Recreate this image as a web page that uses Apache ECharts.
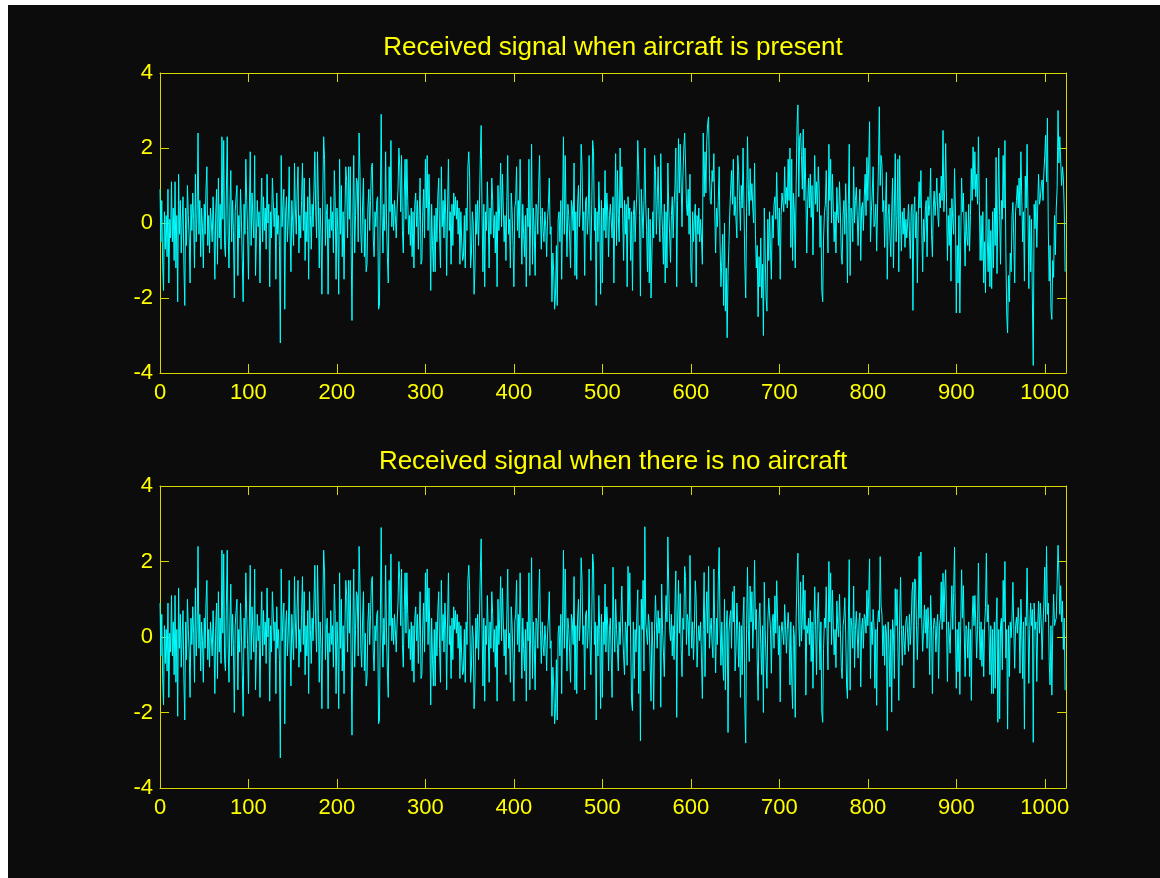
<!DOCTYPE html>
<html>
<head>
<meta charset="utf-8">
<title>Received signal</title>
<script src="https://cdn.jsdelivr.net/npm/echarts@6/dist/echarts.min.js"></script>
<style>
  html, body { margin: 0; padding: 0; background: #ffffff; }
  #chart { position: absolute; left: 8px; top: 5px; width: 1152px; height: 873px; background: #0c0c0c; }
</style>
</head>
<body>
<div id="chart"></div>
<script>
// Samples 0..509 are the same noise record in both received signals.
const sharedStart = [
  0.9, -0.5, 0.6, -1.1, -1.8, 0.3, -0.7, 0.2, -0.9, 0.9,
  -1.6, 0.1, -0.4, 1.1, -0.5, 0.4, -1.0, 1.1, -1.2, 0.2,
  -2.1, 1.3, -0.3, 0.6, -0.8, 0.0, 0.7, -1.1, -2.2, 0.4,
  -0.6, 1.0, 0.2, -0.4, -1.6, 0.5, -0.2, 0.8, 0.1, -1.2,
  1.3, -0.5, 0.3, 2.4, -0.3, 0.6, -0.9, 0.4, -0.1, -1.2,
  0.5, -0.3, 0.9, 1.5, -0.6, 0.2, -0.8, 0.4, 0.0, -0.5,
  0.7, -0.2, -1.5, 0.3, 0.9, -1.1, 1.2, -0.4, 0.5, -0.7,
  2.3, 0.1, 2.2, -0.6, -0.9, 0.8, 2.3, -0.3, -1.2, 0.4,
  1.4, -0.5, 0.6, -0.2, -2.0, 0.3, 0.7, 1.0, -1.4, 0.2,
  -0.4, 0.9, 0.1, -1.0, -2.1, 0.5, -0.3, 1.7, 0.6, -0.2,
  -1.5, 0.4, 1.9, -0.6, 0.8, 0.1, -0.4, 1.8, -1.4, -0.3,
  0.6, -0.1, 0.3, -1.6, 0.2, 1.2, -0.5, 0.7, -0.2, 0.4,
  -0.7, 1.3, 0.0, 0.5, -1.7, 0.3, -0.4, 1.2, 0.6, -0.1,
  0.4, -1.5, 0.8, -0.3, 0.2, -0.6, -3.2, 1.8, -0.1, 0.5,
  0.9, -2.3, 0.3, 0.7, -0.5, 0.1, 1.5, -0.2, -1.3, 0.6,
  0.0, -0.6, 1.6, 0.4, -0.3, 0.8, 1.5, -0.8, 0.2, -0.4,
  0.6, 1.6, -0.2, 1.2, -1.0, 0.3, -0.5, 0.7, -1.5, 1.2,
  0.2, -0.7, 0.5, -0.1, 0.9, 1.9, 0.3, -0.4, 1.9, 0.6,
  -1.2, 0.4, -0.3, -1.9, 0.8, 2.3, 1.7, -0.6, 0.2, 0.5,
  -1.9, 0.1, -0.4, 0.7, -0.2, 0.3, -0.8, 1.4, 0.6, -1.5,
  0.4, -0.2, -1.9, 1.7, -0.3, 1.0, -0.9, 0.3, -1.5, 0.2,
  1.5, 1.1, -0.4, 1.5, 0.1, 1.5, -0.6, -2.6, 0.3, 1.8,
  -0.8, 0.2, 1.2, 1.1, -0.5, 2.4, 1.4, -0.3, -0.8, 0.5,
  1.2, -0.9, 0.1, -1.3, -1.1, 0.4, 0.9, -0.2, 0.6, 1.5,
  1.6, -0.4, -0.9, 0.3, -0.1, 0.6, 0.7, -2.3, -2.2, 0.4,
  2.9, 0.2, -0.8, 0.5, -0.2, 1.9, 0.1, -0.9, -1.6, 1.5,
  0.3, 2.2, -0.1, 0.5, -0.2, 0.6, 0.2, -0.4, 0.4, 0.9,
  2.0, 1.5, 0.3, 1.8, -0.2, -0.8, 0.7, 1.7, 0.1, 1.7,
  0.6, -0.3, 0.2, -0.6, 0.4, -0.9, 0.3, -1.2, 0.5, 0.8,
  -0.1, 0.6, -0.7, 0.2, 1.2, -1.1, -1.0, 0.3, 0.9, -0.4,
  1.7, 0.4, 1.8, -0.2, 1.3, 0.1, -1.8, 0.5, -0.6, -1.3,
  0.2, -1.3, 0.4, -0.5, 0.7, 1.2, -0.3, -1.2, 1.5, -0.1,
  0.6, -0.4, 0.9, 0.2, -1.4, 0.4, 1.7, -0.2, 0.3, -1.1,
  0.5, -0.6, 0.8, 0.2, 0.7, 0.1, 0.6, -0.3, 0.4, -1.1,
  0.3, -0.5, -1.0, -0.9, 0.2, -1.2, 0.4, -0.2, 1.5, 1.9,
  1.2, -1.2, -0.8, 0.3, 0.0, -1.9, -1.2, 0.5, -0.3, 0.6,
  -0.6, 0.4, 1.7, 2.6, 0.2, -1.3, 0.5, -1.7, 0.3, -0.2,
  1.1, 0.1, -1.2, 0.4, -0.3, 1.2, 0.6, -0.4, 0.2, -0.8,
  0.3, -1.7, 1.0, -0.2, 0.5, 1.6, -0.1, 1.3, 0.4, -0.5,
  0.2, -1.0, 0.6, 1.8, -0.3, 0.1, -1.2, 0.8, 0.3, -0.6,
  -1.7, 0.4, 0.6, 1.5, -0.2, 0.6, -0.4, 1.7, 0.3, -1.1,
  0.5, -0.3, -0.9, 0.2, -1.7, 0.4, -0.1, 1.7, -1.4, 0.3,
  2.1, -1.1, 0.4, -0.2, -1.4, 0.5, 0.4, -0.3, 1.0, 1.8,
  0.2, -0.7, 0.4, -0.2, -0.5, 0.3, -0.1, -0.9, 0.1, 0.5,
  1.2, -0.3, -0.1, -2.1, -0.8, -1.3, -2.3, -1.9, -0.6, -2.2,
  0.1, 0.3, -0.5, 0.6, -1.5, 0.4, 2.3, -0.3, 1.8, 0.2,
  -0.9, 0.5, 0.2, -0.4, -1.2, 0.6, 0.4, -0.2, 1.6, -1.4,
  0.3, -1.5, 0.5, 1.0, -0.1, 0.4, 2.1, 1.5, -0.2, 0.3,
  -1.4, 0.6, 0.7, -0.3, 0.2, 1.8, -0.1, -1.0, 0.5, 2.2,
  1.9, -0.2, 0.4, -2.2, 0.3, -0.5, 1.1, 0.2, -1.9, 0.6,
  -1.6, 0.4, -0.2, 1.4, -0.4, 0.8, 0.3, -0.9, 0.2, 0.5
];

// Samples 510..1023 with the aircraft echo present.
const presentTail = [
  0.5, -0.4, 0.7, -1.6, 0.3, 1.85, -0.6, 1.4, 0.2, -0.5,
  2.0, 0.4, 1.5, 0.1, -1.0, 0.6, -0.3, 0.5, -1.7, 0.7,
  0.1, 0.4, -1.0, 0.3, -1.8, 0.2, 0.6, -0.5, 0.3, 0.8,
  2.2, 1.4, 0.2, -1.95, 0.9, 0.3, -0.4, 0.6, 2.0, 0.5,
  -0.2, -1.3, 0.4, -1.6, 0.1, -2.0, -0.8, 0.3, -0.4, 1.8,
  1.4, -0.3, 0.6, 1.5, 0.2, -0.5, 1.85, 0.4, -0.2, -1.1,
  0.5, -1.6, 0.3, -1.2, 1.6, 0.4, -0.3, -1.05, 0.2, 0.7,
  -0.4, 0.5, 0.9, 2.0, -1.7, 0.6, 2.25, 0.8, 2.1, 1.1,
  -0.1, 1.2, 2.0, 2.4, 1.6, 0.5, 0.2, 0.9, -0.3, 1.3,
  -1.2, -1.6, 0.3, -0.5, 0.1, 0.5, -1.7, 0.2, -0.3, 0.4,
  -0.5, 0.1, -0.4, -1.1, 2.4, 0.7, 1.9, 0.8, 2.2, 2.65,
  2.83, 1.3, 0.6, 0.5, 1.4, 1.1, 1.85, 0.3, -0.8, 0.4,
  -0.1, 0.6, 1.5, -0.5, -1.7, -1.0, -0.3, -2.2, 0.0, -2.35,
  -1.2, -3.06, -1.4, -0.6, 0.3, 0.9, 1.4, 0.5, 1.7, 0.2,
  0.7, 0.1, -0.4, 1.8, 1.4, 0.6, -0.2, 1.0, 0.4, 2.0,
  0.5, -1.1, -2.0, 0.3, 2.3, 0.9, 0.2, 1.45, 0.6, 1.05,
  0.4, 0.0, 1.6, -0.3, -1.2, -0.6, -2.5, -0.9, -1.7, -0.4,
  -2.0, -1.1, -3.0, 0.4, -0.8, -2.0, -2.35, 0.1, -1.0, 0.3,
  -0.7, -1.5, 0.2, -0.4, 0.5, 0.7, 0.1, 1.35, 0.3, -0.6,
  0.4, -1.5, 0.2, 0.8, 0.8, 0.3, 1.5, 0.5, 0.95, 0.4,
  1.7, 0.6, 2.0, -0.65, 1.7, -1.0, 0.8, 0.3, -1.2, 1.0,
  2.6, 3.15, 0.7, 2.3, 2.4, 1.8, 0.9, 2.5, 0.6, 2.0,
  0.8, -0.8, 0.5, 1.2, 0.4, 1.3, 0.15, 1.0, -0.85, 0.6,
  1.8, 0.5, 1.1, 0.3, 1.5, 0.9, -0.65, 0.2, -1.8, -2.1,
  -0.4, 0.3, 0.5, 1.4, 0.2, -0.8, 2.1, 0.6, 1.7, 0.0,
  1.3, 0.4, -0.5, 0.3, -0.8, 0.95, 0.2, 0.0, 1.1, 0.3,
  -0.85, -1.1, 0.2, 0.6, -0.3, 1.05, 0.1, -1.6, 0.5, 2.1,
  -1.4, 0.4, 0.3, -0.5, 1.5, 0.0, 0.6, 0.95, 0.2, -0.6,
  0.3, 0.9, -1.0, 0.4, 0.55, -0.2, 0.7, 1.3, 0.2, 1.75,
  0.6, 1.6, 2.7, -0.5, 0.3, 0.8, 1.5, -0.1, 0.0, 0.5,
  -0.75, 0.4, 1.5, 3.1, 1.0, 1.8, 1.55, 0.3, 0.6, -0.65,
  0.4, 1.35, -1.5, 0.2, 0.5, -0.35, -0.9, 0.3, 1.2, -1.2,
  0.4, 1.85, -0.5, 0.2, 1.7, -1.3, 1.8, 0.1, -0.75, 0.3,
  -0.3, 0.4, -0.65, 0.1, -0.4, 0.0, 0.5, -0.2, -0.95, 0.3,
  0.5, -2.33, 0.25, 0.7, -0.4, 0.3, -1.6, 0.2, 1.1, 0.4,
  1.4, -0.2, -1.3, 0.1, -0.5, 0.35, 0.6, -0.9, 0.7, 0.2,
  0.5, 1.46, -0.3, -0.9, 0.4, 0.85, 0.2, 0.6, 1.2, 0.3,
  -0.1, 0.8, 0.4, 1.25, 0.6, 2.47, 0.3, 0.9, 2.12, 0.5,
  -1.0, 0.2, -0.6, 0.4, -1.55, 0.65, 0.1, -0.3, 1.45, 0.4,
  -2.4, -0.6, -1.6, 0.2, -2.4, -0.5, 1.2, 0.3, 0.8, -0.2,
  -1.15, 0.3, -0.4, -0.6, 0.5, -0.75, 0.2, 1.45, 0.6, 2.03,
  0.9, 1.9, 0.7, 1.3, 0.5, 2.3, 0.6, -1.0, 0.2, -1.0,
  0.3, -1.6, -0.5, -1.86, 1.2, -0.4, -1.3, 0.1, -1.7, -0.2,
  -1.75, 0.3, -1.2, 0.4, -0.6, 1.75, -1.35, 0.5, 2.0, 0.2,
  -1.1, 0.6, 0.1, 1.8, 0.4, 2.2, -0.7, -2.45, -2.93, -1.4,
  -2.1, -0.8, -1.3, 0.2, 0.55, -0.5, -1.6, 0.3, 0.6, 1.0,
  0.4, 1.2, 0.2, 1.9, 0.7, -0.5, 0.3, -1.55, 1.25, 0.4,
  2.1, 0.3, -1.75, 0.2, -1.3, 0.1, -2.05, -3.8, 0.5, -0.15,
  0.6, -0.65, 0.4, 1.3, 0.5, 0.65, 1.0, 1.15, 0.6, 1.35,
  1.8, 2.34, 1.1, 2.8, -0.2, -1.55, -0.6, -2.3, -2.57, -1.0,
  -1.45, 0.2, -0.85, 0.4, 0.95, 3.0, 1.6, 2.3, 2.35, 1.0,
  1.5, 1.2, 0.4, -1.3
];

// Samples 510..1023 with noise only.
const absentTail = [
  0.5, -1.6, 1.85, 0.3, -0.4, 1.0, 0.2, -0.3, -0.9, 0.4,
  -0.2, 0.6, 1.35, 0.1, -0.5, -1.0, 0.4, 0.2, -0.75, 1.87,
  0.3, 1.7, -0.2, -1.7, -1.95, 0.4, -1.1, 0.2, -0.4, 0.6,
  1.25, -1.5, 0.3, -2.75, 1.0, 0.2, 1.5, -0.9, 2.92, 0.4,
  0.1, -0.2, 0.6, 0.3, -0.75, -1.7, 0.4, -0.3, -1.92, 0.2,
  1.1, 0.4, -0.3, 0.7, 0.1, 0.5, -1.86, 1.4, 0.2, -0.4,
  -1.05, 0.3, 1.1, 0.4, 2.65, 1.35, 0.2, -0.1, 0.6, -0.5,
  0.3, -0.6, 0.8, 1.75, -2.13, 0.4, 1.5, 0.1, 1.15, -0.3,
  -1.05, 0.5, 0.2, 1.87, 1.6, -0.2, 0.6, 0.4, -0.5, 2.16,
  0.6, -0.3, 0.4, -0.6, 0.2, 1.49, 1.0, -0.8, -0.1, 0.3,
  -0.1, 0.4, -0.55, -1.63, 0.2, 1.71, -1.05, 0.5, 1.2, 0.1,
  1.87, -0.3, 0.2, 0.5, -0.2, -0.55, 1.8, 0.3, -0.95, 0.5,
  -0.2, 1.5, 2.37, 0.3, -0.75, 0.4, -0.55, -1.15, 1.0, -1.4,
  0.2, 0.7, -2.53, 0.1, 0.5, 0.7, -0.3, 1.2, 0.4, 1.35,
  -0.9, -0.35, 0.9, 0.2, -0.8, 0.4, -1.6, 0.3, -1.0, 0.5,
  1.06, -1.86, -2.81, 0.3, 1.85, 0.2, -0.65, 1.35, 0.4, 1.2,
  -0.3, 0.5, 2.03, 0.2, 0.73, -0.6, -1.68, 0.4, 0.9, -0.2,
  -1.0, 0.3, -2.0, 1.45, 0.2, -0.65, -1.36, 0.4, 1.03, 1.06,
  0.2, -0.96, 0.4, 0.6, -0.3, 1.09, 0.1, 1.49, 0.5, -0.47,
  0.3, -1.72, 0.1, 0.4, 0.42, -0.2, 0.86, 0.3, -0.43, 0.2,
  0.65, 0.1, -1.27, 0.4, -1.14, -1.9, 0.3, 0.0, -2.13, 0.5,
  1.6, 2.22, 0.3, -0.25, 1.46, -0.11, 0.5, 1.64, 0.2, 1.24,
  -1.54, 0.3, 0.1, 0.5, -0.2, 0.7, -0.65, 0.4, -1.36, 0.2,
  1.33, 0.3, -1.0, 0.5, 1.18, 0.2, -0.87, 0.4, -1.99, -2.26,
  -0.3, 0.5, 0.24, 1.33, 0.1, -0.87, 2.0, 0.4, 1.7, -0.2,
  1.24, 0.3, -0.47, 0.2, -0.81, 0.95, 0.3, 0.0, 1.13, 0.2,
  -0.78, -1.1, 0.3, 0.5, 1.04, 0.1, -1.27, -1.63, 0.4, 2.05,
  -1.41, 0.5, 0.29, -0.3, 1.35, -0.81, 0.2, 0.68, 0.1, -0.56,
  0.4, 0.64, -1.32, 0.2, 0.5, -0.3, 0.6, 0.5, 0.1, 1.24,
  0.3, 1.09, 2.07, -1.1, 0.4, -0.2, 0.73, 0.3, -1.36, 0.2,
  -1.81, 0.3, 0.7, 0.4, 2.13, 0.82, 0.6, -0.5, 0.3, -0.75,
  0.33, 0.1, -2.48, 0.4, -0.3, -1.32, 0.2, -1.99, 0.46, 0.1,
  -1.1, 1.28, 0.3, 1.26, -0.2, -1.68, 0.5, 1.58, 0.2, -0.75,
  0.3, -0.1, -0.47, 0.4, 0.55, 0.1, -0.38, 0.6, -0.2, 0.3,
  1.2, 1.45, -1.35, 1.54, 1.48, 0.3, -0.6, 0.4, 2.14, 0.5,
  2.25, 0.4, -0.38, 0.2, 0.85, 0.1, 0.73, -0.3, 0.78, 0.2,
  -1.0, 1.1, 0.3, -1.5, 0.2, 0.5, 0.33, -0.4, 0.3, 0.6,
  -1.1, 0.3, 0.5, 1.46, 0.2, 1.69, 0.4, 1.33, 1.78, 0.3,
  -1.18, 0.4, 0.1, -0.43, 0.5, 1.36, 0.2, 1.18, 2.38, 0.3,
  -1.36, 0.2, -0.92, 0.4, -1.52, 0.3, 1.78, 0.5, 1.36, 0.1,
  -1.05, 0.3, 0.2, -0.56, 0.4, -1.05, 0.2, -1.68, 0.5, 1.09,
  0.3, 1.1, 0.4, -0.56, 0.2, 1.96, 0.3, -0.61, 0.4, -0.78,
  0.2, -1.05, 0.3, 0.78, 2.22, 0.4, 0.86, 0.1, -1.0, 0.3,
  -1.5, 0.2, -1.5, 0.4, -1.36, 0.3, 1.04, -2.26, 0.2, -2.17,
  0.3, 0.5, -0.87, 1.5, 0.4, 2.0, -0.56, 0.2, -2.44, 0.3,
  -1.05, 0.4, -0.02, 0.5, 1.45, 0.2, -0.83, 0.3, 0.52, 0.1,
  0.78, 0.3, -0.96, 1.0, 0.2, -1.1, 0.4, -2.44, 0.52, 0.3,
  1.83, 0.4, -1.23, 0.2, 0.9, 0.3, 0.73, -2.79, 0.9, 0.2,
  0.4, -1.18, 0.3, 0.95, 0.1, 0.9, 0.4, -0.6, 0.3, 0.87,
  1.85, 0.4, 2.4, 0.6, 0.9, -0.65, -1.27, 0.3, -1.54, 0.2,
  1.13, 0.3, 0.42, 0.5, 1.45, 2.43, 1.7, 0.6, 1.36, 0.4,
  0.95, -0.33, 0.5, -1.41
];

const titles = [
  'Received signal when aircraft is present',
  'Received signal when there is no aircraft'
];

const present = sharedStart.concat(presentTail);
const absent = sharedStart.concat(absentTail);
const toPoints = arr => arr.map((v, i) => [i, v]);

const YELLOW = '#ffff00';
const BOX = '#d8d800';
const FONT = 'Liberation Sans, Arial, sans-serif';

const chart = echarts.init(document.getElementById('chart'), null, { renderer: 'canvas' });

function xAxisPair(gridIndex) {
  const common = {
    type: 'value', gridIndex, min: 0, max: 1024, interval: 100,
    splitLine: { show: false },
    axisLine: { show: true, onZero: false, lineStyle: { color: BOX, width: 1 } },
    axisTick: { show: true, inside: true, length: 9, lineStyle: { color: BOX, width: 1 } }
  };
  return [
    Object.assign({}, common, {
      position: 'bottom',
      axisLabel: {
        show: true, color: YELLOW, fontFamily: FONT, fontSize: 22, margin: 9,
        showMaxLabel: false, formatter: v => String(v)
      }
    }),
    Object.assign({}, common, { position: 'top', axisLabel: { show: false } })
  ];
}

function yAxisPair(gridIndex) {
  const common = {
    type: 'value', gridIndex, min: -4, max: 4, interval: 2,
    splitLine: { show: false },
    axisLine: { show: true, onZero: false, lineStyle: { color: BOX, width: 1 } },
    axisTick: { show: true, inside: true, length: 9, lineStyle: { color: BOX, width: 1 } }
  };
  return [
    Object.assign({}, common, {
      position: 'left',
      axisLabel: { show: true, color: YELLOW, fontFamily: FONT, fontSize: 22, margin: 7 }
    }),
    Object.assign({}, common, { position: 'right', axisLabel: { show: false } })
  ];
}

const option = {
  backgroundColor: '#0c0c0c',
  animation: false,
  grid: [
    { left: 152, top: 68, width: 906, height: 300 },
    { left: 152, top: 481, width: 906, height: 302 }
  ],
  xAxis: [...xAxisPair(0), ...xAxisPair(1)],
  yAxis: [...yAxisPair(0), ...yAxisPair(1)],
  graphic: [
    { type: 'text', x: 605, y: 43, silent: true,
      style: { text: titles[0], fill: YELLOW, font: '26px ' + FONT, textAlign: 'center', textVerticalAlign: 'middle' } },
    { type: 'text', x: 605, y: 457, silent: true,
      style: { text: titles[1], fill: YELLOW, font: '26px ' + FONT, textAlign: 'center', textVerticalAlign: 'middle' } }
  ],
  series: [
    { type: 'line', xAxisIndex: 0, yAxisIndex: 0, data: toPoints(present),
      showSymbol: false, silent: true, lineStyle: { color: '#00ffff', width: 1 } },
    { type: 'line', xAxisIndex: 2, yAxisIndex: 2, data: toPoints(absent),
      showSymbol: false, silent: true, lineStyle: { color: '#00ffff', width: 1 } }
  ]
};

chart.setOption(option);
</script>
</body>
</html>
